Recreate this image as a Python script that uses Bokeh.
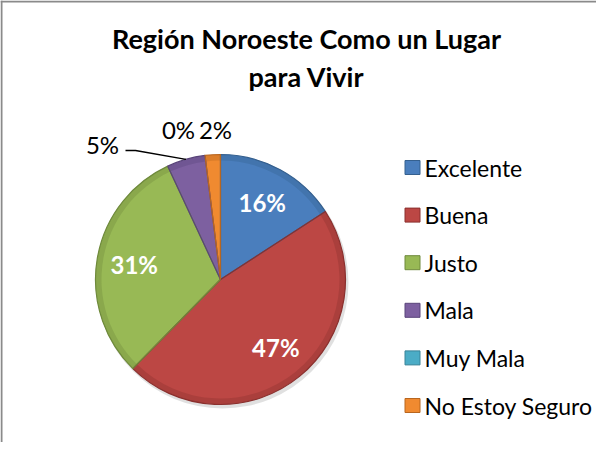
import math
from bokeh.plotting import figure
from bokeh.models import Range1d, Span
from bokeh.core.properties import value
from bokeh.embed import file_html
from bokeh.resources import INLINE

# ---------------- data ----------------
categories = ["Excelente", "Buena", "Justo", "Mala", "Muy Mala", "No Estoy Seguro"]
values = [16, 47, 31, 5, 0, 2]
colors = ["#4A7EBD", "#BC4744", "#98B955", "#7D60A0", "#4BACC6", "#F08A30"]
edge_colors = ["#35608F", "#8A302E", "#6F8A3C", "#59447A", "#3A8398", "#B8661F"]
title_lines = ["Región Noroeste Como un Lugar", "para Vivir"]

# ---------------- layout ----------------
W, H = 596, 442
FONT = "Lato"


def X(ix):
    return ix - 8


def Y(iy):
    return 450 - iy


p = figure(width=W, height=H, output_backend="svg", toolbar_location=None,
           x_range=Range1d(0, W), y_range=Range1d(0, H), min_border=0)
p.axis.visible = False
p.grid.visible = False
p.outline_line_color = None
p.background_fill_color = "white"
p.border_fill_color = "white"

# chart frame (left and top edges visible in reference)
p.add_layout(Span(location=1, dimension="height", line_color="#8a8a8a", line_width=2))
p.add_layout(Span(location=H - 1, dimension="width", line_color="#8a8a8a", line_width=2))

# title
for i, t in enumerate(title_lines):
    p.text(x=[X(314)], y=[Y(46 + 38 * i)], text=[t], text_font=value(FONT),
           text_font_style="bold", text_font_size="27px", text_align="center",
           text_baseline="middle", text_color="black")

# pie
cx, cy, R = X(228), Y(287), 125
total = float(sum(values))
starts, ends, mids = [], [], []
cum = 0.0
for v in values:
    a0 = math.pi / 2 - 2 * math.pi * cum / total
    cum += v
    a1 = math.pi / 2 - 2 * math.pi * cum / total
    starts.append(a1)
    ends.append(a0)
    mids.append((a0 + a1) / 2)

idx = [i for i, v in enumerate(values) if v > 0]

# soft shadow
p.circle(x=[cx + 2], y=[cy - 3], radius=R + 1, fill_color="#000000", fill_alpha=0.12,
         line_color=None)

p.wedge(x=cx, y=cy, radius=R,
        start_angle=[starts[i] for i in idx], end_angle=[ends[i] for i in idx],
        fill_color=[colors[i] for i in idx], line_color=None)
# bevel rim
p.annular_wedge(x=cx, y=cy, inner_radius=R - 6, outer_radius=R,
                start_angle=[starts[i] for i in idx], end_angle=[ends[i] for i in idx],
                fill_color=[edge_colors[i] for i in idx], fill_alpha=0.35, line_color=None)
p.wedge(x=cx, y=cy, radius=R,
        start_angle=[starts[i] for i in idx], end_angle=[ends[i] for i in idx],
        fill_color=None, line_color=[edge_colors[i] for i in idx], line_width=1.2)

labels = ["%d%%" % v for v in values]

# inside labels
inside = [i for i, v in enumerate(values) if v >= 10]
p.text(x=[cx + 0.7 * R * math.cos(mids[i]) for i in inside],
       y=[cy + 0.7 * R * math.sin(mids[i]) for i in inside],
       text=[labels[i] for i in inside], text_font=value(FONT), text_font_style="bold",
       text_font_size="24px", text_align="center", text_baseline="middle",
       text_color="white")

# outside labels (positions are layout)
outside_pos = {3: (110, 152), 4: (186, 137), 5: (223, 137)}
oi = [i for i in outside_pos]
p.text(x=[X(outside_pos[i][0]) for i in oi], y=[Y(outside_pos[i][1]) for i in oi],
       text=[labels[i] for i in oi], text_font=value(FONT), text_font_size="24px",
       text_align="center", text_baseline="middle", text_color="black")

# leader line for Mala
ex = cx + R * math.cos(mids[3])
ey = cy + R * math.sin(mids[3])
p.line(x=[X(133), X(143), ex], y=[Y(158), Y(158), ey], line_color="black", line_width=1.5)

# legend
row_y = [Y(175 + 47.6 * k) for k in range(len(categories))]
p.rect(x=[X(420)] * len(categories), y=row_y, width=15, height=14,
       fill_color=colors, line_color=edge_colors, line_width=1)
p.text(x=[X(432)] * len(categories), y=row_y, text=categories, text_font=value(FONT),
       text_font_size="23px", text_align="left", text_baseline="middle",
       text_color="black")

open("out.html", "w").write(file_html(p, INLINE))
